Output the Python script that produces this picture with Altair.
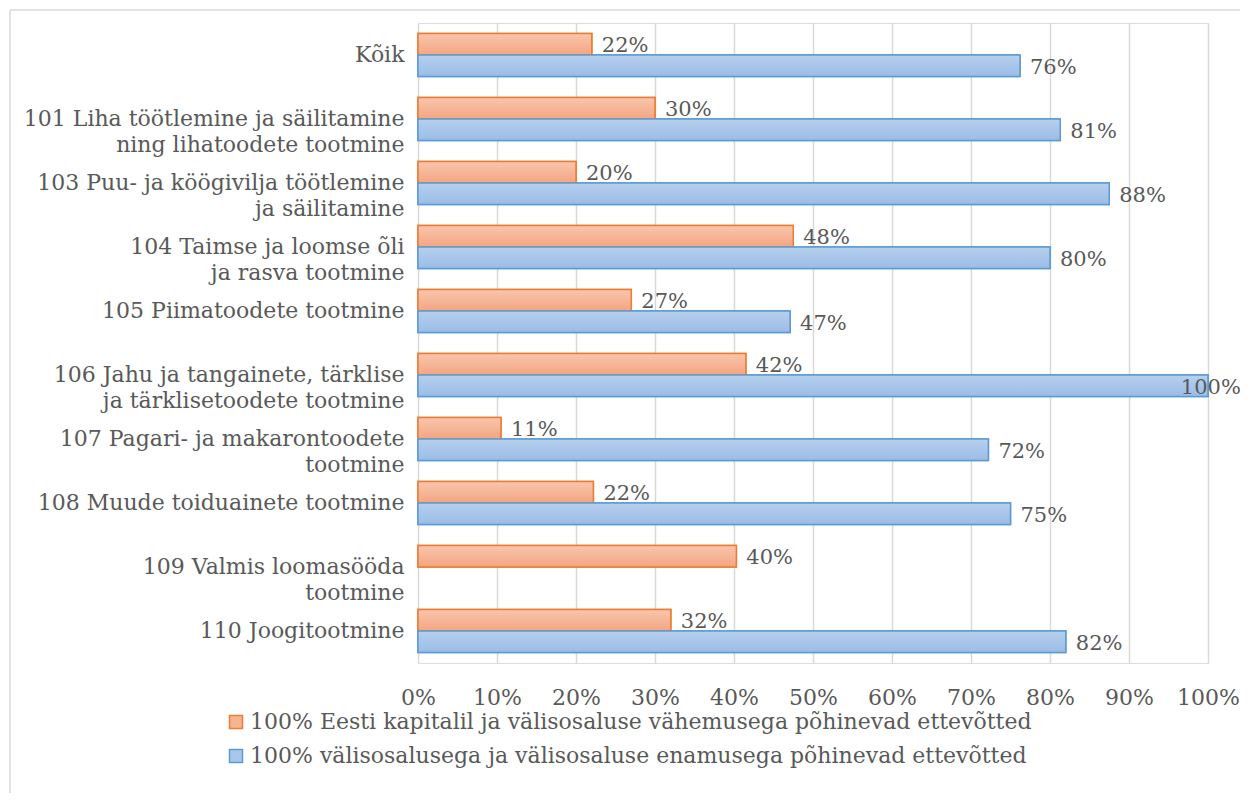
import altair as alt
import pandas as pd

categories = [
    "Kõik",
    "101 Liha töötlemine ja säilitamine\nning lihatoodete tootmine",
    "103 Puu- ja köögivilja töötlemine\nja säilitamine",
    "104 Taimse ja loomse õli\nja rasva tootmine",
    "105 Piimatoodete tootmine",
    "106 Jahu ja tangainete, tärklise\nja tärklisetoodete tootmine",
    "107 Pagari- ja makarontoodete\ntootmine",
    "108 Muude toiduainete tootmine",
    "109 Valmis loomasööda\ntootmine",
    "110 Joogitootmine",
]
series_a = "100% Eesti kapitalil ja välisosaluse vähemusega põhinevad ettevõtted"
series_b = "100% välisosalusega ja välisosaluse enamusega põhinevad ettevõtted"
values_a = [0.22, 0.30, 0.20, 0.475, 0.27, 0.415, 0.105, 0.222, 0.403, 0.32]
values_b = [0.762, 0.813, 0.875, 0.80, 0.471, 1.00, 0.722, 0.75, None, 0.82]

rows = []
for c, a, b in zip(categories, values_a, values_b):
    rows.append({"cat": c, "series": series_a, "v": a})
    if b is not None:
        rows.append({"cat": c, "series": series_b, "v": b})
df = pd.DataFrame(rows)

FONT = "DejaVu Serif"
TXT = "#595959"
GRID = "#D9D9D9"

grad_a = {"gradient": "linear", "x1": 0, "y1": 0, "x2": 0, "y2": 1,
          "stops": [{"offset": 0, "color": "#F8C6AE"}, {"offset": 1, "color": "#F4A580"}]}
grad_b = {"gradient": "linear", "x1": 0, "y1": 0, "x2": 0, "y2": 1,
          "stops": [{"offset": 0, "color": "#B7D0EE"}, {"offset": 1, "color": "#9ABDE6"}]}

y_enc = alt.Y("cat:N", sort=categories,
              scale=alt.Scale(paddingInner=0.33, paddingOuter=0.165),
              axis=alt.Axis(title=None, domain=False, ticks=False, labelPadding=14,
                            labelFont=FONT, labelFontSize=22, labelColor=TXT,
                            labelLimit=600, labelLineHeight=26, labelAlign="right",
                            labelExpr="split(datum.value, '\\n')"))
yoff = alt.YOffset("series:N", sort=[series_a, series_b],
                   scale=alt.Scale(domain=[series_a, series_b], paddingInner=0, paddingOuter=0))
x_enc = alt.X("v:Q", scale=alt.Scale(domain=[0, 1], nice=False),
              axis=alt.Axis(title=None, format=".0%", values=[i / 10 for i in range(11)],
                            domain=False, ticks=False, grid=True, gridColor=GRID, gridWidth=1.5,
                            labelOverlap=False, labelFlush=False,
                            labelFont=FONT, labelFontSize=22, labelColor=TXT, labelPadding=24))

base = alt.Chart(df)

legend_bars = base.mark_bar(strokeWidth=1.5).encode(
    x=x_enc, y=y_enc, yOffset=yoff,
    color=alt.Color("series:N", sort=[series_a, series_b],
                    scale=alt.Scale(domain=[series_a, series_b], range=["#F6B493", "#A9C7EA"]),
                    legend=alt.Legend(title=None, orient="none", legendX=-193, legendY=688,
                                      direction="vertical", symbolType="square", symbolSize=169,
                                      symbolStrokeWidth=1.5, labelFont=FONT, labelFontSize=22,
                                      labelColor=TXT, labelLimit=1000, labelOffset=3,
                                      rowPadding=12)),
    stroke=alt.Stroke("series:N", sort=[series_a, series_b],
                      scale=alt.Scale(domain=[series_a, series_b], range=["#ED7D31", "#5B9BD5"]),
                      legend=None),
)

grad_bars = base.mark_bar(strokeWidth=1.5).encode(
    x=alt.X("v:Q"), y=alt.Y("cat:N", sort=categories), yOffset=alt.YOffset("series:N"),
    fill={"condition": {"test": f"datum.series == '{series_a}'", "value": grad_a}, "value": grad_b},
    stroke={"condition": {"test": f"datum.series == '{series_a}'", "value": "#ED7D31"}, "value": "#5B9BD5"},
)

labels = base.transform_calculate(
    lx="datum.v > 0.99 ? datum.v - 0.047 : datum.v"
).mark_text(align="left", baseline="middle", dx=10, dy=2, font=FONT, fontSize=21, color=TXT).encode(
    x=alt.X("lx:Q"), y=alt.Y("cat:N", sort=categories), yOffset=alt.YOffset("series:N"),
    text=alt.Text("v:Q", format=".0%"),
)

frame_data = alt.Data(values=[{"k": 1}])
frame_left = alt.Chart(frame_data).mark_rule(color=GRID, strokeWidth=1.5).encode(
    x=alt.value(-408), y=alt.value(-13), y2=alt.value(900))
frame_top = alt.Chart(frame_data).mark_rule(color=GRID, strokeWidth=1.5).encode(
    x=alt.value(-408), x2=alt.value(1000), y=alt.value(-13))

chart = alt.layer(legend_bars, grad_bars, labels, frame_left, frame_top).properties(
    width=790, height=640,
    autosize=alt.AutoSizeParams(type="none"),
    padding={"left": 410, "top": 15, "right": 32, "bottom": 130},
).configure_view(stroke=None).configure(background="white")

chart.save("out.html", embed_options={"renderer": "svg", "actions": False})
